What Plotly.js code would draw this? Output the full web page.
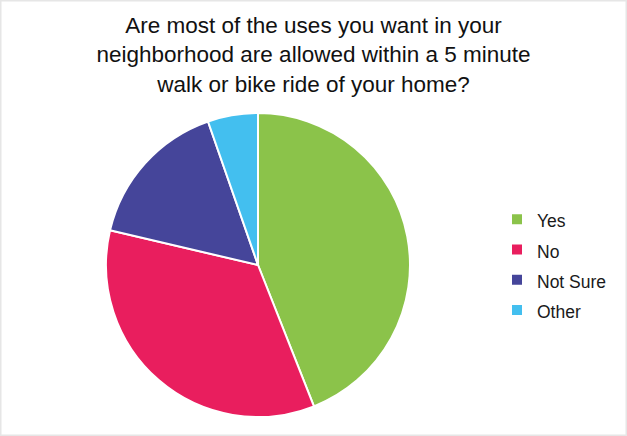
<!DOCTYPE html>
<html>
<head>
<meta charset="utf-8">
<script src="https://cdn.plot.ly/plotly-3.0.1.min.js"></script>
<style>
	html, body { margin: 0; padding: 0; background: #fff; }
	#chart { width: 627px; height: 436px; }
</style>
</head>
<body>
<div id="chart"></div>
<script>
'use strict';

// survey answers
const labels = ['Yes', 'No', 'Not Sure', 'Other'];
const counts = [33, 26, 12, 4];
const colors = ['#8BC34A', '#E91E5E', '#45459A', '#43BFEF'];

const titleText = 'Are most of the uses you want in your<br>' +
	'neighborhood are allowed within a 5 minute<br>' +
	'walk or bike ride of your home?';

const W = 627, H = 436;
const cx = 258, cy = 265, r = 152;

// legend rows are spaced by the legend font size, the visible text is smaller
const legendLabels = labels.map(function(l) { return '<span style="font-size:17.5px">' + l + '</span>'; });

const trace = {
	type: 'pie',
	labels: legendLabels,
	values: counts,
	sort: false,
	direction: 'clockwise',
	rotation: 0,
	textinfo: 'none',
	hoverinfo: 'label+percent',
	marker: {
		colors: colors,
		line: { color: '#ffffff', width: 2 }
	},
	domain: {
		x: [(cx - r) / W, (cx + r) / W],
		y: [(H - cy - r) / H, (H - cy + r) / H]
	}
};

const layout = {
	width: W,
	height: H,
	margin: { l: 0, r: 0, t: 0, b: 0 },
	paper_bgcolor: '#ffffff',
	font: { family: 'Liberation Sans, Arial, sans-serif', color: '#1a1a1a' },
	title: {
		text: titleText,
		font: { size: 22.5, color: '#111111' },
		x: 0.5,
		xanchor: 'center',
		y: 1 - 33 / H,
		yanchor: 'top'
	},
	showlegend: true,
	legend: {
		x: 497 / W,
		xanchor: 'left',
		y: (H - cy) / H,
		yanchor: 'middle',
		font: { size: 21, color: '#1a1a1a' },
		bgcolor: 'rgba(0,0,0,0)'
	},
	shapes: [{
		type: 'rect',
		xref: 'paper', yref: 'paper',
		x0: 0, x1: 1, y0: 0, y1: 1,
		line: { color: '#e6e6e6', width: 3 }
	}]
};

Plotly.newPlot('chart', [trace], layout, { displayModeBar: false, staticPlot: true });
</script>
</body>
</html>
